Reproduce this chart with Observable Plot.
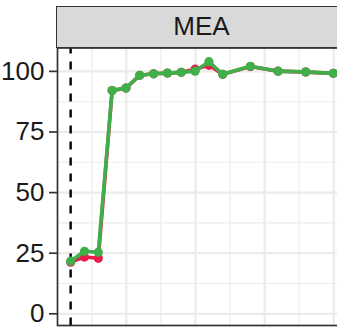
<!DOCTYPE html>
<html><head><meta charset="utf-8">
<script src="https://cdn.jsdelivr.net/npm/d3@7"></script>
<script src="https://cdn.jsdelivr.net/npm/@observablehq/plot@0.6"></script>
<style>
html,body{margin:0;padding:0;overflow:hidden;background:#fff;width:337px;height:329px;}
#wrap{position:relative;width:337px;height:329px;overflow:hidden;}
#chart{position:absolute;left:0;top:0;}
#strip{position:absolute;left:56px;top:6px;width:291px;height:42px;box-sizing:border-box;border:1.7px solid #333;background:#D9D9D9;font:26px "Liberation Sans",Arial,sans-serif;color:#1a1a1a;text-align:center;line-height:38px;}
</style></head><body>
<div id="wrap"><div id="chart"></div><div id="strip"></div></div>
<script>
const facetLabel = "MEA";
const xIndex = [0,1,2,3,4,5,6,7,8,9,10,11,13,15,17,19];
const seriesRed   = [21.3,23.4,22.9,92.1,93.1,98.4,99.0,99.3,99.6,100.9,102.5,98.8,102.0,100.1,99.7,99.2];
const seriesGreen = [21.7,25.8,25.4,92.1,93.1,98.4,99.0,99.3,99.6,100.1,104.0,98.8,102.1,100.1,99.8,99.2];
const yTicks = [0,25,50,75,100];
const yMinor = [12.5,37.5,62.5,87.5];
const xMajor = [4.03,9.03,14.03,19.03];
const xMinor = [1.53,6.53,11.53,16.53];
const vline = [0];
const redColor = "#E81C4C";
const greenColor = "#3FAF49";

const red = xIndex.map((x,i)=>({x, y: seriesRed[i]}));
const green = xIndex.map((x,i)=>({x, y: seriesGreen[i]}));

document.getElementById("strip").textContent = facetLabel;

const plot = Plot.plot({
  width: 346, height: 329,
  marginLeft: 57, marginRight: 0, marginTop: 47.5, marginBottom: 4,
  style: {maxWidth: "none", background: "white"},
  x: {domain: [-0.95, 19.95], axis: null},
  y: {domain: [-4.83, 109.65]},
  marks: [
    Plot.ruleX(xMinor, {stroke: "#EBEBEB", strokeWidth: 1.1}),
    Plot.ruleY(yMinor, {stroke: "#EBEBEB", strokeWidth: 1.1}),
    Plot.ruleX(xMajor, {stroke: "#EBEBEB", strokeWidth: 2.2}),
    Plot.ruleY(yTicks, {stroke: "#EBEBEB", strokeWidth: 2.2}),
    Plot.ruleX(vline, {stroke: "black", strokeWidth: 2.4, strokeDasharray: "8,8", strokeDashoffset: 2}),
    Plot.line(red, {x: "x", y: "y", stroke: redColor, strokeWidth: 3.6}),
    Plot.dot(red, {x: "x", y: "y", r: 4.6, fill: redColor}),
    Plot.line(green, {x: "x", y: "y", stroke: greenColor, strokeWidth: 3.6}),
    Plot.dot(green, {x: "x", y: "y", r: 4.6, fill: greenColor}),
    Plot.axisY(yTicks, {tickSize: 8, tickPadding: 5, fontSize: 26, fontFamily: "Liberation Sans", stroke: "#333", strokeWidth: 1.7, fill: "#1a1a1a", label: null}),
    Plot.frame({stroke: "#333", strokeWidth: 1.7})
  ]
});
plot.style.fontFamily = "Liberation Sans";
document.getElementById("chart").appendChild(plot);
</script>
</body></html>
